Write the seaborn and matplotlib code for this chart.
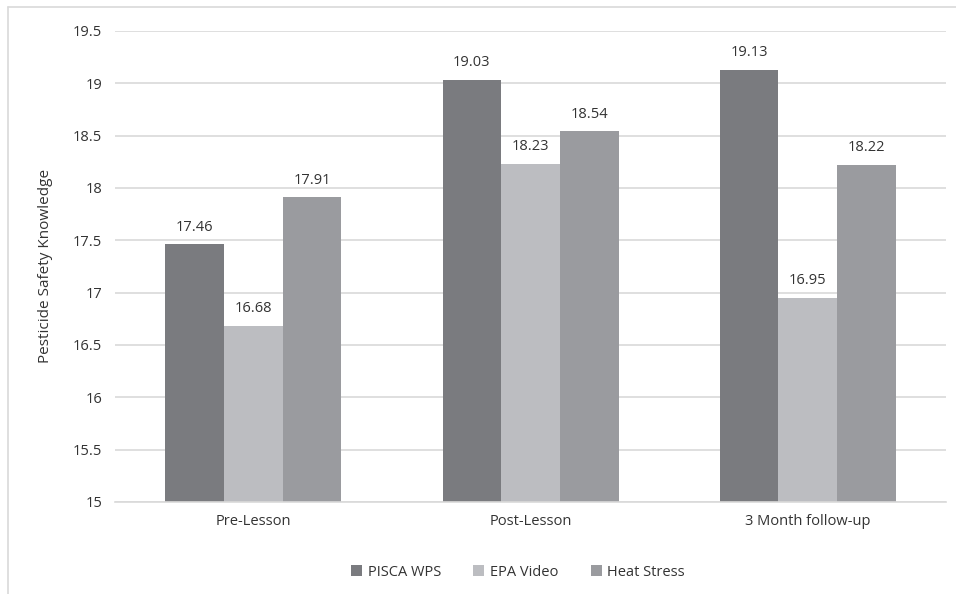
import pandas as pd
import matplotlib
matplotlib.use("Agg")
import matplotlib.pyplot as plt
from matplotlib.lines import Line2D
import seaborn as sns

# data
phases = ["Pre-Lesson", "Post-Lesson", "3 Month follow-up"]
groups = ["PISCA WPS", "EPA Video", "Heat Stress"]
pisca_wps = [17.46, 19.03, 19.13]
epa_video = [16.68, 18.23, 16.95]
heat_stress = [17.91, 18.54, 18.22]
yticks = [15, 15.5, 16, 16.5, 17, 17.5, 18, 18.5, 19, 19.5]
ytick_labels = ["15", "15.5", "16", "16.5", "17", "17.5", "18", "18.5", "19", "19.5"]

colors = ["#7a7b7f", "#bcbdc1", "#9a9b9f"]

df = pd.DataFrame({
    "phase": phases * 3,
    "group": [groups[0]] * 3 + [groups[1]] * 3 + [groups[2]] * 3,
    "score": pisca_wps + epa_video + heat_stress,
})

sns.set_style("white")
plt.rcParams['font.family'] = ['Open Sans', 'DejaVu Sans']

fig = plt.figure(figsize=(9.56, 5.94), dpi=100)
ax = fig.add_axes([0.120, 0.155, 0.870, 0.793])

sns.barplot(data=df, x="phase", y="score", hue="group", order=phases,
            hue_order=groups, palette=colors, width=0.635, saturation=1,
            linewidth=0, ax=ax, zorder=2)

for cont in ax.containers:
    ax.bar_label(cont, fmt="%.2f", padding=7, fontsize=10.5, color="#333333")

ax.set_ylim(15, 19.5)
ax.set_yticks(yticks)
ax.set_yticklabels(ytick_labels)
ax.yaxis.grid(True, color="#d9d9d9", linewidth=1.2, zorder=0)
ax.set_axisbelow(True)
for s in ["top", "right", "left"]:
    ax.spines[s].set_visible(False)
ax.spines["bottom"].set_color("#d9d9d9")
ax.spines["bottom"].set_linewidth(1.2)
ax.tick_params(axis="both", length=0, labelsize=10.5, colors="#333333", pad=9)
ax.set_xlabel("")
ax.set_ylabel("Pesticide Safety Knowledge", fontsize=11, color="#333333", labelpad=14)

leg = ax.legend(loc="upper center", bbox_to_anchor=(0.485, -0.105), ncol=3, frameon=False,
                fontsize=10.5, handlelength=0.75, handleheight=0.75, handletextpad=0.4,
                columnspacing=2.2, labelcolor="#333333")

# outer chart frame (only left/top visible in the crop)
fig.add_artist(Line2D([0.008, 0.008], [0, 0.988], transform=fig.transFigure, color="#d9d9d9", lw=1.2))
fig.add_artist(Line2D([0.008, 1], [0.988, 0.988], transform=fig.transFigure, color="#d9d9d9", lw=1.2))

fig.savefig("out.png", dpi=100)
